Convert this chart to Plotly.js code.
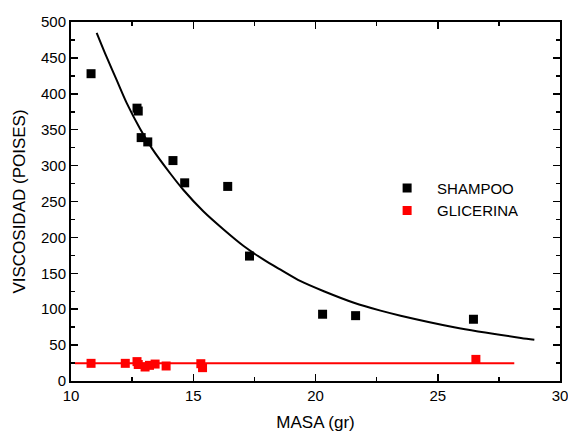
<!DOCTYPE html>
<html>
<head>
<meta charset="utf-8">
<script src="https://cdn.plot.ly/plotly-3.0.1.min.js"></script>
<style>html,body{margin:0;padding:0;background:#fff;}#chart{width:568px;height:432px;}</style>
</head>
<body>
<div id="chart"></div>
<script>
// Shampoo data points
const shampooX = [10.82, 12.70, 12.75, 12.87, 13.14, 14.17, 14.65, 16.41, 17.30, 20.29, 21.64, 26.46];
const shampooY = [428, 380, 376, 339, 333, 307, 276, 271, 174, 93, 91, 86];
// Glicerina data points
const glicerinaX = [10.82, 12.22, 12.70, 12.75, 13.03, 13.21, 13.44, 13.89, 15.31, 15.38, 26.56];
const glicerinaY = [24.6, 24.6, 27, 23, 19.5, 21.8, 23.6, 20.9, 24.1, 18.6, 30.1];
// Fitted curve for shampoo
const fitShampooX = [11.05, 11.46, 11.87, 12.28, 12.83, 13.31, 14.06, 14.60, 15.42, 16.24, 17.06, 17.88, 18.57, 19.39, 20.34, 21.57, 22.66, 23.48, 25.67, 28.40, 28.95];
const fitShampooY = [485, 451, 419, 387, 351, 324, 289, 266, 236, 211, 188, 169, 155, 139, 125, 109, 98, 91, 75, 60, 57.5];
// Fitted line for glicerina
const fitGlicerinaX = [10.16, 28.13];
const fitGlicerinaY = [24.6, 24.6];

const font = "'Liberation Sans', Arial, sans-serif";

const traces = [
  {x: fitShampooX, y: fitShampooY, mode: 'lines', line: {color: '#000', width: 2, shape: 'spline', smoothing: 0.8}, showlegend: false, hoverinfo: 'skip'},
  {x: fitGlicerinaX, y: fitGlicerinaY, mode: 'lines', line: {color: '#ff0000', width: 2}, showlegend: false, hoverinfo: 'skip'},
  {x: shampooX, y: shampooY, mode: 'markers', name: 'SHAMPOO', marker: {symbol: 'square', size: 9, color: '#000'}},
  {x: glicerinaX, y: glicerinaY, mode: 'markers', name: 'GLICERINA', marker: {symbol: 'square', size: 9, color: '#ff0000'}}
];

const axisCommon = {
  showgrid: false, zeroline: false, showline: true, linecolor: '#000', linewidth: 2,
  mirror: 'ticks', ticks: 'inside', ticklen: 7, tickwidth: 1.5, tickcolor: '#000',
  ticklabeloverflow: 'allow',
  tickfont: {family: font, size: 15, color: '#000'}
};

const layout = {
  width: 568, height: 432,
  margin: {l: 71, r: 8, t: 22, b: 51},
  paper_bgcolor: '#fff', plot_bgcolor: '#fff',
  font: {family: font, color: '#000'},
  xaxis: Object.assign({}, axisCommon, {
    range: [10, 30], dtick: 5, tick0: 10,
    minor: {dtick: 2.5, ticks: 'inside', ticklen: 4, tickcolor: '#000', tickwidth: 1.5},
    title: {text: 'MASA (gr)', font: {family: font, size: 17, color: '#000'}, standoff: 13}
  }),
  yaxis: Object.assign({}, axisCommon, {
    range: [0, 500], dtick: 50, tick0: 0,
    minor: {dtick: 25, ticks: 'inside', ticklen: 4, tickcolor: '#000', tickwidth: 1.5},
    title: {text: 'VISCOSIDAD (POISES)', font: {family: font, size: 17, color: '#000'}, standoff: 11}
  }),
  legend: {
    x: 0.626, y: 0.583, xanchor: 'left', yanchor: 'top',
    bgcolor: 'rgba(0,0,0,0)', borderwidth: 0,
    font: {family: font, size: 15, color: '#000'},
    itemwidth: 50, tracegroupgap: 0
  },
  showlegend: true
};

Plotly.newPlot('chart', traces, layout, {staticPlot: true, displayModeBar: false});
</script>
</body>
</html>
